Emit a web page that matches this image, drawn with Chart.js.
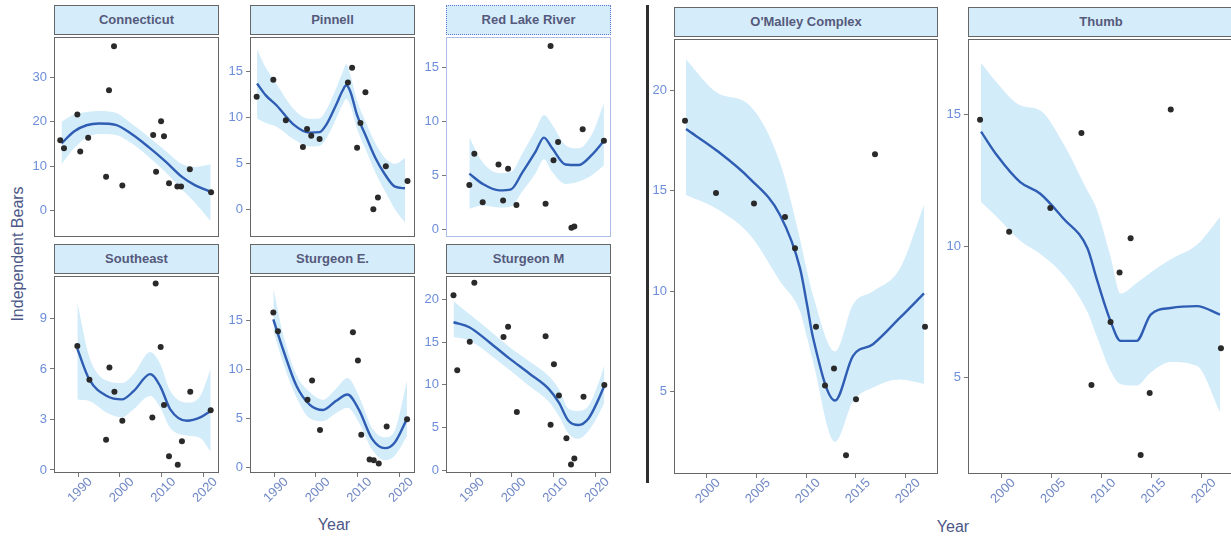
<!DOCTYPE html>
<html>
<head>
<meta charset="utf-8">
<title>Independent Bears</title>
<script src="https://cdn.jsdelivr.net/npm/chart.js@4.4.1/dist/chart.umd.min.js"></script>
<style>
  html, body { margin: 0; padding: 0; background: #fff; }
  body { width: 1231px; height: 539px; overflow: hidden; position: relative; font-family: "Liberation Sans", Arial, sans-serif; }
  .panel { position: absolute; }
  .strip { position: absolute; box-sizing: border-box; background: #d5edfa; border: 1px solid #666; color: #55597c; font-size: 13px; font-weight: bold; text-align: center; white-space: nowrap; }
  .axis-title { position: absolute; color: #4d5788; font-size: 16px; white-space: nowrap; }
  #divider { position: absolute; left: 646px; top: 5px; width: 3px; height: 478px; background: #2e2e2e; }
</style>
</head>
<body>
<div id="divider"></div>
<div class="axis-title" style="left:18px;top:254px;transform:translate(-50%,-50%) rotate(-90deg)">Independent Bears</div>
<div class="axis-title" style="left:334px;top:525px;transform:translate(-50%,-50%)">Year</div>
<div class="axis-title" style="left:953px;top:527px;transform:translate(-50%,-50%)">Year</div>
<script>
// tick labels
const leftYearTicks = [1990, 2000, 2010, 2020];
const rightYearTicks = [2000, 2005, 2010, 2015, 2020];

// Connecticut
const connYears = [1985.7, 1986.6, 1989.8, 1990.5, 1992.4, 1996.7, 1997.4, 1998.6, 2000.6, 2008.0, 2008.7, 2009.9, 2010.6, 2011.8, 2013.8, 2014.7, 2016.8, 2021.9];
const connBears = [15.8, 14.0, 21.6, 13.3, 16.4, 7.6, 27.1, 37.0, 5.6, 17.0, 8.7, 20.1, 16.7, 6.1, 5.4, 5.4, 9.3, 4.1];
const connFitYears = [1986, 1989, 1992, 1995, 1999, 2003, 2007, 2011, 2015, 2018, 2021.8];
const connFit = [15.1, 17.8, 19.2, 19.6, 19.3, 17.1, 14.2, 11.0, 7.5, 5.7, 4.2];
const connLow = [10.4, 14.0, 16.4, 17.2, 17.0, 15.0, 12.0, 8.6, 4.6, 1.8, -2.4];
const connHigh = [20.0, 21.6, 22.2, 22.4, 22.0, 19.4, 16.5, 13.4, 10.4, 9.8, 10.4];
const connTicks = [0, 10, 20, 30];

// Pinnell
const pinYears = [1985.8, 1989.8, 1992.8, 1996.9, 1997.9, 1998.9, 2000.9, 2007.7, 2008.7, 2009.9, 2010.7, 2011.9, 2013.8, 2014.9, 2016.8, 2022.0];
const pinBears = [12.25, 14.1, 9.7, 6.8, 8.75, 8.0, 7.65, 13.8, 15.4, 6.7, 9.4, 12.75, 0.03, 1.3, 4.7, 3.1];
const pinFitYears = [1985.9, 1988, 1990.6, 1994.6, 1998.5, 2000.9, 2002.5, 2004.8, 2006.4, 2007.3, 2008.3, 2009.9, 2011.9, 2014.3, 2016.6, 2019.0, 2021.4];
const pinFit = [13.7, 12.4, 11.3, 9.25, 8.35, 8.4, 9.2, 11.3, 12.9, 13.5, 12.8, 10.25, 8.1, 5.6, 3.8, 2.47, 2.3];
const pinLow = [9.9, 9.4, 9.0, 7.65, 6.85, 6.9, 7.7, 9.8, 11.4, 12.0, 11.3, 8.75, 6.6, 4.0, 2.0, 0.0, -1.4];
const pinHigh = [17.4, 15.4, 13.6, 10.95, 9.85, 9.9, 10.8, 13.1, 14.9, 15.8, 14.6, 11.85, 9.6, 7.2, 5.6, 4.97, 5.6];
const pinTicks = [0, 5, 10, 15];

// Red Lake River
const redYears = [1989.8, 1991.0, 1993.0, 1996.8, 1997.9, 1999.1, 2001.1, 2008.1, 2009.3, 2010.0, 2011.1, 2014.3, 2015.0, 2017.0, 2022.1];
const redBears = [4.1, 7.0, 2.5, 6.0, 2.65, 5.6, 2.25, 2.35, 17.0, 6.4, 8.1, 0.12, 0.25, 9.27, 8.2];
const redFitYears = [1989.8, 1993, 1997, 1999.8, 2002.5, 2005.7, 2007.7, 2009.7, 2012.9, 2016, 2019.2, 2022.1];
const redFit = [5.15, 4.2, 3.6, 3.7, 5.25, 7.2, 8.5, 7.5, 6.0, 5.95, 6.9, 8.2];
const redLow = [1.9, 2.2, 2.0, 2.1, 3.5, 5.2, 6.5, 5.3, 4.2, 4.4, 5.0, 5.9];
const redHigh = [8.5, 6.2, 5.2, 5.3, 7.0, 9.2, 10.6, 9.7, 7.8, 7.5, 8.8, 11.7];
const redTicks = [0, 5, 10, 15];

// Southeast
const seYears = [1989.8, 1992.7, 1996.7, 1997.5, 1998.7, 2000.6, 2007.8, 2008.6, 2009.8, 2010.6, 2011.8, 2013.9, 2014.9, 2016.9, 2021.8];
const seBears = [7.37, 5.36, 1.8, 6.08, 4.64, 2.92, 3.12, 11.07, 7.3, 3.86, 0.82, 0.31, 1.7, 4.64, 3.55];
const seFitYears = [1989.8, 1992.7, 1996.9, 2000.5, 2003.3, 2007.3, 2009.7, 2012.1, 2016.1, 2019.3, 2021.8];
const seFit = [7.2, 5.36, 4.39, 4.19, 4.68, 5.69, 4.97, 3.6, 2.92, 3.12, 3.5];
const seLow = [4.19, 4.1, 3.4, 3.12, 3.6, 4.39, 3.7, 2.5, 2.05, 1.9, 1.07];
const seHigh = [9.94, 6.7, 5.3, 5.16, 5.7, 7.0, 6.3, 4.7, 4.0, 4.4, 6.0];
const seTicks = [0, 3, 6, 9];

// Sturgeon E.
const steYears = [1989.8, 1990.9, 1998.0, 1999.1, 2001.0, 2008.9, 2010.1, 2010.9, 2012.9, 2013.9, 2015.1, 2017.0, 2021.9];
const steBears = [15.8, 13.9, 6.9, 8.86, 3.8, 13.8, 10.9, 3.3, 0.77, 0.7, 0.37, 4.16, 4.9];
const steFitYears = [1989.8, 1992.2, 1995.4, 1998.5, 2001.7, 2004.8, 2007.6, 2010.3, 2013.5, 2016.6, 2019, 2021.9];
const steFit = [15.1, 11.95, 8.26, 6.4, 5.84, 6.75, 7.42, 5.91, 2.89, 1.94, 2.55, 4.96];
const steLow = [13.97, 10.6, 7.1, 5.0, 4.7, 5.5, 6.07, 4.6, 1.8, 0.7, 1.2, 3.2];
const steHigh = [18.3, 13.5, 9.4, 7.7, 6.9, 8.0, 9.1, 7.3, 4.0, 3.05, 3.8, 8.9];
const steTicks = [0, 5, 10, 15];

// Sturgeon M
const stmYears = [1986.0, 1986.9, 1989.9, 1991.0, 1998.0, 1999.1, 2001.2, 2008.1, 2009.3, 2010.1, 2011.3, 2013.1, 2014.2, 2015.0, 2017.2, 2022.2];
const stmBears = [20.5, 11.7, 15.06, 21.97, 15.6, 16.8, 6.82, 15.7, 5.3, 12.4, 8.75, 3.74, 0.66, 1.35, 8.6, 9.98];
const stmFitYears = [1986, 1989.8, 1994.6, 1999.4, 2004.1, 2008.9, 2011.3, 2013.6, 2016, 2018.4, 2020.8, 2022.2];
const stmFit = [17.34, 16.76, 15.0, 13.1, 11.36, 9.5, 7.9, 5.78, 5.28, 6.05, 8.29, 9.9];
const stmLow = [15.6, 15.2, 13.6, 11.76, 9.9, 8.0, 6.3, 4.3, 3.66, 4.6, 6.5, 7.9];
const stmHigh = [19.85, 18.3, 16.4, 14.45, 12.8, 11.0, 9.5, 7.2, 6.94, 7.5, 10.2, 12.3];
const stmTicks = [0, 5, 10, 15, 20];

// O'Malley Complex
const omYears = [1997.9, 2001.0, 2004.8, 2007.9, 2008.9, 2011.0, 2011.9, 2012.8, 2014.0, 2015.0, 2016.9, 2021.9];
const omBears = [18.5, 14.9, 14.37, 13.7, 12.14, 8.23, 5.3, 6.15, 1.83, 4.62, 16.83, 8.23];
const omFitYears = [1998, 2001.1, 2004.4, 2007.4, 2009.4, 2010.1, 2010.7, 2012.9, 2014.7, 2016.7, 2019.4, 2021.8];
const omFit = [18.08, 17.0, 15.6, 13.8, 11.15, 9.34, 7.69, 4.55, 6.78, 7.36, 8.68, 9.89];
const omLow = [14.8, 14.1, 12.8, 10.5, 9.0, 7.7, 6.5, 2.5, 4.5, 5.2, 5.6, 5.38];
const omHigh = [21.55, 19.9, 19.24, 16.4, 12.6, 11.0, 9.8, 7.0, 9.34, 10.0, 11.15, 14.3];
const omTicks = [5, 10, 15, 20];

// Thumb
const thYears = [1997.9, 2000.8, 2004.9, 2008.0, 2009.0, 2010.9, 2011.8, 2012.9, 2013.9, 2014.8, 2016.9, 2021.9];
const thBears = [14.8, 10.55, 11.45, 14.3, 4.72, 7.12, 9.0, 10.3, 2.06, 4.42, 15.19, 6.12];
const thFitYears = [1998, 1999.6, 2001.9, 2003.9, 2006.2, 2008.6, 2009.5, 2010.9, 2011.9, 2013.5, 2014.9, 2016.9, 2019.5, 2021.8];
const thFit = [14.35, 13.44, 12.43, 11.99, 11.05, 9.92, 8.78, 7.15, 6.4, 6.4, 7.4, 7.65, 7.72, 7.4];
const thLow = [11.68, 11.1, 10.2, 9.7, 8.9, 7.5, 6.6, 5.26, 4.75, 4.7, 5.2, 5.6, 5.45, 3.7];
const thHigh = [16.96, 16.2, 15.35, 15.15, 13.9, 12.1, 11.43, 9.6, 8.2, 8.6, 9.0, 9.5, 10.05, 11.1];
const thTicks = [5, 10, 15];

Chart.defaults.font.family = '"Liberation Sans", Arial, sans-serif';

const toPts = (xs, ys) => xs.map((x, i) => ({ x: x, y: ys[i] }));

// box = [left, top, width, height] of the plotting area on the page
const panels = [
  { name: 'Connecticut', box: [54, 34, 165, 203], xMin: 1984.2, xMax: 2023.8, yMin: -6, yMax: 39.1, yTicks: connTicks, xTicks: null,
    years: connYears, bears: connBears, fitYears: connFitYears, fit: connFit, lo: connLow, hi: connHigh },
  { name: 'Pinnell', box: [250, 34, 165, 203], xMin: 1984.2, xMax: 2023.8, yMin: -3, yMax: 18.75, yTicks: pinTicks, xTicks: null,
    years: pinYears, bears: pinBears, fitYears: pinFitYears, fit: pinFit, lo: pinLow, hi: pinHigh },
  { name: 'Red Lake River', box: [446, 34, 165, 203], xMin: 1984.2, xMax: 2023.8, yMin: -0.73, yMax: 17.84, yTicks: redTicks, xTicks: null, dotted: true,
    years: redYears, bears: redBears, fitYears: redFitYears, fit: redFit, lo: redLow, hi: redHigh },
  { name: 'Southeast', box: [54, 273, 165, 200], xMin: 1984.2, xMax: 2023.8, yMin: -0.18, yMax: 11.52, yTicks: seTicks, xTicks: leftYearTicks,
    years: seYears, bears: seBears, fitYears: seFitYears, fit: seFit, lo: seLow, hi: seHigh },
  { name: 'Sturgeon E.', box: [250, 273, 165, 200], xMin: 1984.2, xMax: 2023.8, yMin: -0.6, yMax: 19.54, yTicks: steTicks, xTicks: leftYearTicks,
    years: steYears, bears: steBears, fitYears: steFitYears, fit: steFit, lo: steLow, hi: steHigh },
  { name: 'Sturgeon M', box: [446, 273, 165, 200], xMin: 1984.2, xMax: 2023.8, yMin: -0.35, yMax: 22.77, yTicks: stmTicks, xTicks: leftYearTicks,
    years: stmYears, bears: stmBears, fitYears: stmFitYears, fit: stmFit, lo: stmLow, hi: stmHigh },
  { name: "O'Malley Complex", box: [674, 36, 264, 438], xMin: 1996.8, xMax: 2023.2, yMin: 0.89, yMax: 22.57, yTicks: omTicks, xTicks: rightYearTicks,
    years: omYears, bears: omBears, fitYears: omFitYears, fit: omFit, lo: omLow, hi: omHigh },
  { name: 'Thumb', box: [968, 36, 266, 438], xMin: 1996.7, xMax: 2023.2, yMin: 1.34, yMax: 17.87, yTicks: thTicks, xTicks: rightYearTicks,
    years: thYears, bears: thBears, fitYears: thFitYears, fit: thFit, lo: thLow, hi: thHigh }
];

// ggplot-like panel border
const panelFrame = {
  id: 'panelFrame',
  afterDatasetsDraw(chart, args, opts) {
    const { ctx, chartArea: a } = chart;
    ctx.save();
    ctx.strokeStyle = opts.color;
    ctx.lineWidth = 1;
    if (opts.dotted) ctx.setLineDash([1, 1]);
    ctx.strokeRect(a.left + 0.5, a.top + 0.5, a.width - 1, a.height - 1);
    ctx.restore();
  }
};

// 45 degree year labels centred under each tick
const slantedYears = {
  id: 'slantedYears',
  afterDraw(chart, args, opts) {
    if (!opts.show) return;
    const { ctx, chartArea: a } = chart;
    const xs = chart.scales.x;
    ctx.save();
    ctx.fillStyle = '#7189c4';
    ctx.font = '13px "Liberation Sans", Arial, sans-serif';
    ctx.textAlign = 'center';
    ctx.textBaseline = 'middle';
    xs.ticks.forEach(t => {
      ctx.save();
      ctx.translate(xs.getPixelForValue(t.value) + 2, a.bottom + 17);
      ctx.rotate(-Math.PI / 4);
      ctx.fillText(String(t.value), 0, 0);
      ctx.restore();
    });
    ctx.restore();
  }
};

function makePanel(p) {
  const [left, top, w, h] = p.box;
  const padL = 34, padR = 4;
  const padB = p.xTicks ? 40 : 3;

  const wrap = document.createElement('div');
  wrap.className = 'panel';
  wrap.style.left = (left - padL) + 'px';
  wrap.style.top = top + 'px';
  const canvas = document.createElement('canvas');
  canvas.width = w + padL + padR;
  canvas.height = h + padB;
  wrap.appendChild(canvas);
  document.body.appendChild(wrap);

  const strip = document.createElement('div');
  strip.className = 'strip';
  strip.textContent = p.name;
  strip.style.left = left + 'px';
  strip.style.top = (top - 29) + 'px';
  strip.style.width = w + 'px';
  strip.style.height = '30px';
  strip.style.lineHeight = '28px';
  if (p.dotted) strip.style.border = '1px dotted #5b7ad3';
  document.body.appendChild(strip);

  new Chart(canvas, {
    type: 'line',
    data: {
      datasets: [
        { data: toPts(p.years, p.bears), showLine: false, pointRadius: 3, pointHoverRadius: 3,
          pointBackgroundColor: '#2a2a2a', pointBorderWidth: 0 },
        { data: toPts(p.fitYears, p.fit), borderColor: '#2e5db3', borderWidth: 2.4, pointRadius: 0,
          cubicInterpolationMode: 'monotone', fill: false },
        { data: toPts(p.fitYears, p.hi), borderColor: 'rgba(0,0,0,0)', pointRadius: 0,
          cubicInterpolationMode: 'monotone', backgroundColor: '#d3ecfa', fill: '+1' },
        { data: toPts(p.fitYears, p.lo), borderColor: 'rgba(0,0,0,0)', pointRadius: 0,
          cubicInterpolationMode: 'monotone', fill: false }
      ]
    },
    options: {
      responsive: false,
      animation: false,
      events: [],
      layout: { padding: { left: 0, right: padR, top: 0, bottom: 0 } },
      plugins: {
        legend: { display: false },
        tooltip: { enabled: false },
        panelFrame: { color: p.dotted ? '#5b7ad3' : '#666', dotted: !!p.dotted },
        slantedYears: { show: !!p.xTicks }
      },
      scales: {
        x: {
          type: 'linear', min: p.xMin, max: p.xMax,
          border: { display: false },
          grid: { drawOnChartArea: false, drawTicks: !!p.xTicks, tickLength: 4, color: '#777' },
          ticks: { display: false },
          afterBuildTicks: s => { s.ticks = (p.xTicks || []).map(v => ({ value: v })); },
          afterFit: s => { s.height = padB; s.paddingLeft = 0; s.paddingRight = 0; }
        },
        y: {
          min: p.yMin, max: p.yMax,
          border: { display: false },
          grid: { drawOnChartArea: false, tickLength: 4, color: '#777' },
          ticks: { color: '#6c8dd9', font: { size: 13 }, padding: 3 },
          afterBuildTicks: s => { s.ticks = p.yTicks.map(v => ({ value: v })); },
          afterFit: s => { s.width = padL; s.paddingTop = 0; s.paddingBottom = 0; }
        }
      }
    },
    plugins: [panelFrame, slantedYears]
  });
}

panels.forEach(makePanel);
</script>
</body>
</html>
